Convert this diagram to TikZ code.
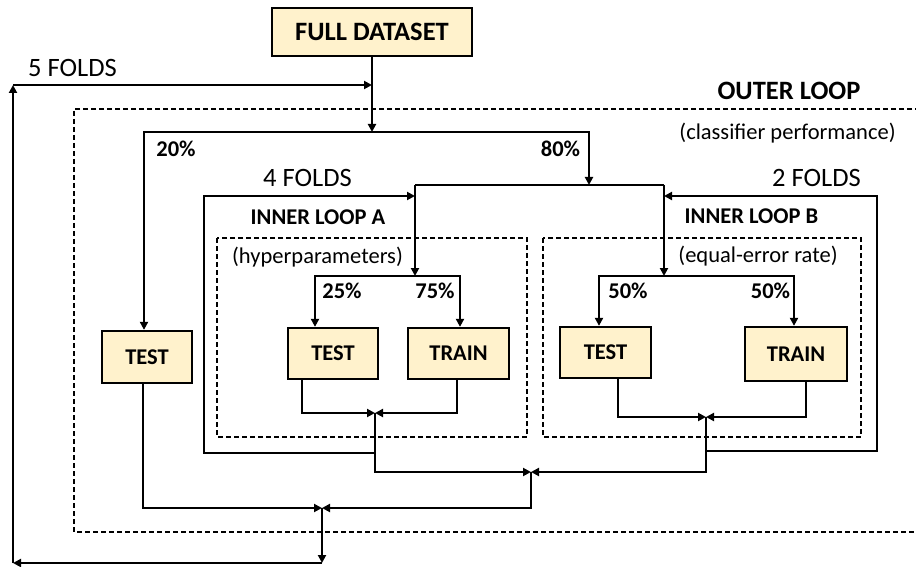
\documentclass[tikz,border=0pt]{standalone}
\usepackage{fontspec}
\setmainfont{Carlito}
\usepackage{tikz}
\usepackage{xcolor}
\usetikzlibrary{arrows.meta,calc}
\definecolor{boxfill}{HTML}{FFF2CC}

\begin{document}
\begin{tikzpicture}[x=1pt,y=-1pt,
  box/.style={draw,line width=2.3pt,fill=boxfill,inner sep=0pt,font=\fontsize{22.5}{26}\selectfont\bfseries},
  arr/.style={line width=2.2pt,-{Triangle[length=8pt,width=8pt]}},
  link/.style={line width=2.2pt},
  loopline/.style={line width=1.1pt,dash pattern=on 5pt off 3pt},
  lab/.style={inner sep=0pt},
  bigtxt/.style={font=\fontsize{26.5}{30}\selectfont},
  bigbold/.style={font=\fontsize{26.5}{30}\selectfont\bfseries},
  smalltxt/.style={font=\fontsize{22.5}{26}\selectfont},
  smallbold/.style={font=\fontsize{22.5}{26}\selectfont\bfseries}]
  \useasboundingbox (0,0) rectangle (916,567);

  % loops
  \draw[loopline] (920,109) -- (74,109) -- (74,532) -- (920,532); % outer
  \draw[loopline] (217,238) rectangle (527,437); % inner A
  \draw[loopline] (543,238) rectangle (861,437); % inner B

  % boxes
  \node[box,bigbold,minimum width=200pt,minimum height=48pt] (full) at (372,32) {FULL DATASET};
  \node[box,minimum width=90pt,minimum height=52pt] (testO) at (147,357) {TEST};
  \node[box,minimum width=90pt,minimum height=51pt] (testA) at (333,353.5) {TEST};
  \node[box,minimum width=101pt,minimum height=51pt] (trainA) at (458.5,353.5) {TRAIN};
  \node[box,minimum width=91pt,minimum height=51pt] (testB) at (605.5,352.5) {TEST};
  \node[box,minimum width=102pt,minimum height=54pt] (trainB) at (796,354) {TRAIN};

  % texts
  \node[lab,bigtxt] (fiveF) at (72.5,68) {5 FOLDS};
  \node[lab,bigbold] (outerT) at (789,91) {OUTER LOOP};
  \node[lab,smalltxt] (outerC) at (787.5,133) {(classifier performance)};
  \node[lab,smallbold] (pc20) at (176,149) {20\%};
  \node[lab,smallbold] (pc80) at (560.5,149) {80\%};
  \node[lab,bigtxt] (fourF) at (307.5,178) {4 FOLDS};
  \node[lab,bigtxt] (twoF) at (816.5,178) {2 FOLDS};
  \node[lab,smallbold] (innerAT) at (318,217) {INNER LOOP A};
  \node[lab,smallbold] (innerBT) at (751.5,216.5) {INNER LOOP B};
  \node[lab,smalltxt] (innerAC) at (317.5,257.5) {(hyperparameters)};
  \node[lab,smalltxt] (innerBC) at (758,256.5) {(equal-error rate)};
  \node[lab,smallbold] (pc25) at (342,291) {25\%};
  \node[lab,smallbold] (pc75) at (435,291) {75\%};
  \node[lab,smallbold] (pc50a) at (628,290.5) {50\%};
  \node[lab,smallbold] (pc50b) at (770.5,290.5) {50\%};

  % junctions
  \coordinate (split0) at (372,132);
  \coordinate (join0) at (589,185);
  \coordinate (joinA) at (415,185);
  \coordinate (joinB) at (664,185);
  \coordinate (splitA) at (415,276);
  \coordinate (splitB) at (664,276);
  \coordinate (inA) at (415,196);
  \coordinate (inB) at (664,196);
  \coordinate (mergeA) at (375,413);
  \coordinate (mergeB) at (706,417);
  \coordinate (loopA) at (375,453);
  \coordinate (loopB) at (706,451);
  \coordinate (merge2) at (531,472);
  \coordinate (merge3) at (322,508);
  \coordinate (back1) at (322,563);
  \coordinate (back2) at (13,563);
  \coordinate (back3) at (13,85);

  % splitting
  \draw[arr] (full.south) -- (split0);
  \draw[arr] (split0) -| ([xshift=-3pt]testO.north); % 20%
  \draw[arr] (split0) -| (join0); % 80%
  \draw[link] (joinA) -- (joinB);
  \draw[arr] (joinA) -- (splitA);
  \draw[arr] (joinB) -- (splitB);
  \draw[arr] (splitA) -| ([xshift=-18pt]testA.north);
  \draw[arr] (splitA) -| ([xshift=1.5pt]trainA.north);
  \draw[arr] (splitB) -| ([xshift=-6.5pt]testB.north);
  \draw[arr] (splitB) -| ([xshift=-2pt]trainB.north);

  % merging
  \draw[arr] ([xshift=-31pt]testA.south) |- (mergeA);
  \draw[arr] ([xshift=-1.5pt]trainA.south) |- (mergeA);
  \draw[arr] ([xshift=12.5pt]testB.south) |- (mergeB);
  \draw[arr] ([xshift=10pt]trainB.south) |- (mergeB);
  \draw[arr] (mergeA) |- (merge2);
  \draw[arr] (mergeB) |- (merge2);
  \draw[arr] (loopA) -| ([xshift=-211pt]inA) -- (inA); % 4 folds
  \draw[arr] (loopB) -| ([xshift=213pt]inB) -- (inB); % 2 folds
  \draw[arr] (merge2) |- (merge3);
  \draw[arr] ([xshift=-4pt]testO.south) |- (merge3);

  % back to the top, 5 folds
  \draw[arr] (merge3) -- (back1);
  \draw[arr] (back1) -- (back2);
  \draw[arr] (back2) -- (back3);
  \draw[arr] (back3) -- (back3 -| full.south);
\end{tikzpicture}
\end{document}
